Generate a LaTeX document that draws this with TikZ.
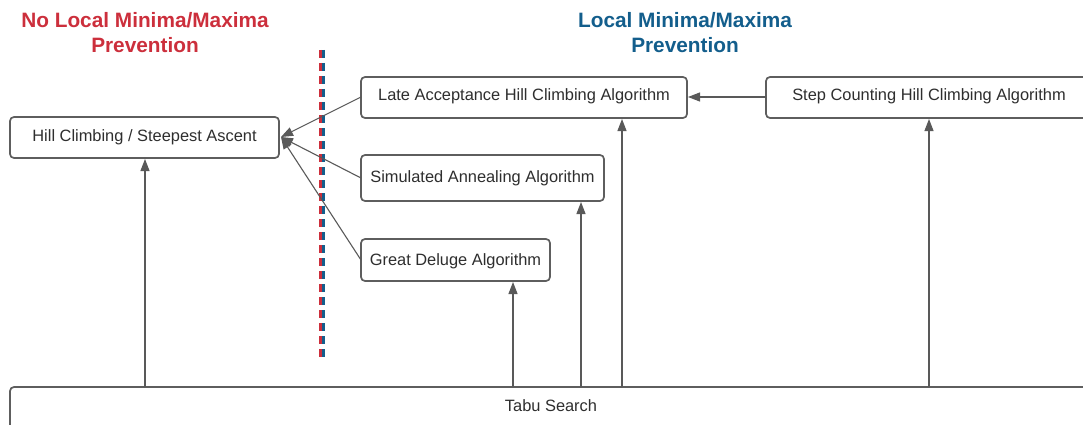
\documentclass[tikz,border=0pt]{standalone}
\usepackage{fontspec}
\setmainfont{Liberation Sans}
\usetikzlibrary{arrows.meta}
\definecolor{nored}{HTML}{CC2F3C}
\definecolor{yesblue}{HTML}{135E8C}
\definecolor{edge}{HTML}{5E5E5E}
\definecolor{wire}{HTML}{595959}
\tikzset{
  algbox/.style={draw=edge, line width=1.7pt, rounded corners=4pt, fill=white},
  boxtext/.style={font=\fontsize{16.4}{19}\selectfont, text=black!82},
  title/.style={font=\bfseries\fontsize{20.8}{25}\selectfont, align=center},
  link/.style={draw=wire, line width=1.1pt, -{Triangle[length=12pt,width=9pt]}},
}
\begin{document}
\begin{tikzpicture}[x=1pt,y=-1pt]
\useasboundingbox (0,0) rectangle (1083,425);
% group headings
\node[title, text=nored] (hno) at (145,33) {No Local Minima/Maxima\\Prevention};
\node[title, text=yesblue] (hyes) at (685,33) {Local Minima/Maxima\\Prevention};
% dividing line: red and blue dashes side by side
\draw[nored, line width=2.8pt, dash pattern=on 8pt off 5pt] (320.5,50) -- (320.5,360);
\draw[yesblue, line width=2.8pt, dash pattern=on 8pt off 5pt] (323.3,50) -- (323.3,360);
% boxes
\draw[algbox] (10,117) rectangle (279,158);
\node[boxtext] (hc) at (144.5,137.5) {Hill Climbing / Steepest Ascent};
\coordinate (hcR) at (281,137);
\draw[algbox] (361,77) rectangle (687,118);
\node[boxtext] (la) at (524,96.5) {Late Acceptance Hill Climbing Algorithm};
\draw[algbox] (766,77) rectangle (1100,118);
\node[boxtext] (sc) at (929,96.5) {Step Counting Hill Climbing Algorithm};
\draw[algbox] (361,155) rectangle (604,201);
\node[boxtext] (sa) at (482.5,178) {Simulated Annealing Algorithm};
\draw[algbox] (361,239) rectangle (550,281);
\node[boxtext] (gd) at (455.5,261) {Great Deluge Algorithm};
\draw[algbox] (10,387) rectangle (1100,440);
\node[boxtext] (ts) at (551,406) {Tabu Search};
% anchor points on box edges
\coordinate (laL) at (361,97);
\coordinate (laR) at (688,97);
\coordinate (scL) at (766,97);
\coordinate (saL) at (361,178);
\coordinate (gdL) at (361,260);
\coordinate (t1) at (145,387);
\coordinate (t2) at (513,387);
\coordinate (t3) at (581,387);
\coordinate (t4) at (622,387);
\coordinate (t5) at (929,387);
\coordinate (hcB) at (145,159);
\coordinate (gdB) at (513,282);
\coordinate (saB) at (581,202);
\coordinate (laB) at (622,119);
\coordinate (scB) at (929,119);
% connectors
\draw[link] (scL) -- (laR);
\draw[link] (laL) -- (hcR);
\draw[link] (saL) -- (hcR);
\draw[link] (gdL) -- (hcR);
\draw[link] (t1) -- (hcB);
\draw[link] (t2) -- (gdB);
\draw[link] (t3) -- (saB);
\draw[link] (t4) -- (laB);
\draw[link] (t5) -- (scB);
\end{tikzpicture}
\end{document}
